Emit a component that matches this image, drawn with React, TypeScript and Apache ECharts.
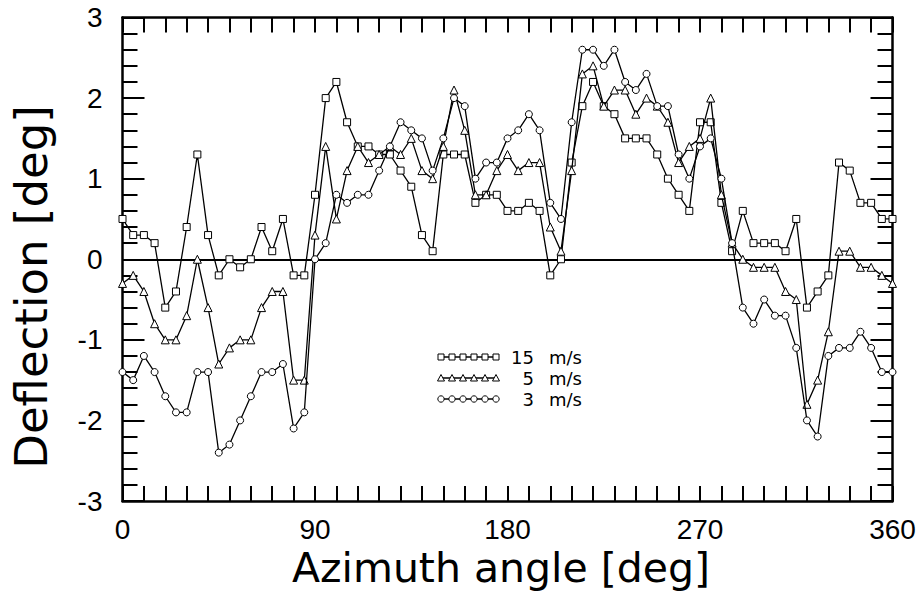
import React, { useEffect, useRef } from "react";
import * as echarts from "echarts";

const angles: number[] = [];
for (let a = 0; a <= 360; a += 5) angles.push(a);

const v15 = [0.5, 0.3, 0.3, 0.2, -0.6, -0.4, 0.4, 1.3, 0.3, -0.2, 0.0, -0.1, 0.0, 0.4, 0.1, 0.5, -0.2, -0.2, 0.8, 2.0, 2.2, 1.7, 1.4, 1.4, 1.3, 1.3, 1.1, 0.9, 0.3, 0.1, 1.3, 1.3, 1.3, 0.7, 0.8, 0.8, 0.6, 0.6, 0.7, 0.6, -0.2, 0.0, 1.2, 1.9, 2.2, 1.9, 1.8, 1.5, 1.5, 1.5, 1.3, 1.0, 0.8, 0.6, 1.7, 1.7, 0.7, 0.1, 0.6, 0.2, 0.2, 0.2, 0.1, 0.5, -0.6, -0.4, -0.2, 1.2, 1.1, 0.7, 0.7, 0.5, 0.5];
const v5 = [-0.3, -0.2, -0.4, -0.8, -1.0, -1.0, -0.7, 0.0, -0.6, -1.3, -1.1, -1.0, -1.0, -0.6, -0.4, -0.4, -1.5, -1.5, 0.3, 1.4, 0.5, 1.1, 1.4, 1.2, 1.3, 1.4, 1.3, 1.5, 1.1, 1.0, 1.4, 2.1, 1.6, 0.8, 0.8, 1.1, 1.3, 1.1, 1.2, 1.2, 0.4, 0.1, 1.1, 2.3, 2.4, 1.9, 2.1, 2.1, 1.8, 2.0, 1.9, 1.7, 1.2, 1.4, 1.5, 2.0, 0.8, 0.2, 0.0, -0.1, -0.1, -0.1, -0.4, -0.5, -1.8, -1.5, -0.9, 0.1, 0.1, -0.1, -0.1, -0.2, -0.3];
const v3 = [-1.4, -1.5, -1.2, -1.4, -1.7, -1.9, -1.9, -1.4, -1.4, -2.4, -2.3, -2.0, -1.7, -1.4, -1.4, -1.3, -2.1, -1.9, 0.0, 0.2, 0.8, 0.7, 0.8, 0.8, 1.1, 1.4, 1.7, 1.6, 1.5, 1.1, 1.5, 2.0, 1.9, 1.0, 1.2, 1.2, 1.5, 1.6, 1.8, 1.6, 0.7, 0.5, 1.7, 2.6, 2.6, 2.4, 2.6, 2.2, 2.1, 2.3, 1.9, 1.9, 1.3, 1.0, 1.4, 1.5, 1.0, 0.2, -0.6, -0.8, -0.5, -0.7, -0.7, -1.1, -2.0, -2.2, -1.2, -1.1, -1.1, -0.9, -1.1, -1.4, -1.4];

const seriesNames = ["15", "5", "3"];
const seriesSymbols = ["rect", "triangle", "circle"];
const xTicks = [0, 90, 180, 270, 360];
const yTicks = [-3, -2, -1, 0, 1, 2, 3];

const FONT_T = "Liberation Sans";
const FONT_TITLE = "DejaVu Sans";

export default function App() {
  const ref = useRef<HTMLDivElement>(null);
  useEffect(() => {
    if (!ref.current) return;
    const chart = echarts.init(ref.current, null, { renderer: "svg" });
    const values = [v15, v5, v3];
    const mk = (vals: number[]) => angles.map((a, i) => [a, vals[i]]);
    const axisLineStyle = { color: "#000", width: 2.5 };
    const tickStyle = { color: "#000", width: 2 };
    const xBase = (pos: "bottom" | "top", labels: boolean) => ({
      type: "value" as const,
      position: pos,
      min: 0,
      max: 360,
      interval: 90,
      axisLine: { show: true, onZero: false, lineStyle: axisLineStyle },
      axisTick: { show: true, inside: true, length: 15, lineStyle: tickStyle },
      minorTick: { show: true, splitNumber: 9, length: 15, lineStyle: tickStyle },
      splitLine: { show: false },
      axisLabel: {
        show: labels,
        margin: 14,
        color: "#000",
        fontSize: 28,
        fontFamily: FONT_T,
        customValues: xTicks,
      },
    });
    const yBase = (pos: "left" | "right", labels: boolean) => ({
      type: "value" as const,
      position: pos,
      min: -3,
      max: 3,
      interval: 1,
      axisLine: { show: true, onZero: false, lineStyle: axisLineStyle },
      axisTick: { show: true, inside: true, length: 22, lineStyle: tickStyle },
      minorTick: { show: true, splitNumber: 5, length: 15, lineStyle: tickStyle },
      splitLine: { show: false },
      axisLabel: {
        show: labels,
        margin: 20,
        color: "#000",
        fontSize: 28,
        fontFamily: FONT_T,
        customValues: yTicks,
      },
    });

    const legendRows = [357, 378, 399];
    const legendGraphics: any[] = [];
    seriesNames.forEach((name, r) => {
      const y = legendRows[r];
      legendGraphics.push({
        type: "line",
        shape: { x1: 441, y1: y, x2: 496, y2: y },
        style: { stroke: "#000", lineWidth: 1.3 },
        z: 10,
      });
      for (let k = 0; k < 6; k++) {
        const cx = 441 + k * 11;
        if (r === 0) {
          legendGraphics.push({ type: "rect", shape: { x: cx - 3, y: y - 3, width: 6, height: 6 }, style: { fill: "#fff", stroke: "#000", lineWidth: 1 }, z: 11 });
        } else if (r === 1) {
          legendGraphics.push({ type: "polygon", shape: { points: [[cx, y - 3.5], [cx + 3.5, y + 3], [cx - 3.5, y + 3]] }, style: { fill: "#fff", stroke: "#000", lineWidth: 1 }, z: 11 });
        } else {
          legendGraphics.push({ type: "circle", shape: { cx, cy: y, r: 3.2 }, style: { fill: "#fff", stroke: "#000", lineWidth: 1 }, z: 11 });
        }
      }
      legendGraphics.push({
        type: "text", x: 534, y, style: { text: name, fill: "#000", font: `18px "${FONT_TITLE}"`, textAlign: "right", textVerticalAlign: "middle", lineHeight: 18 }, z: 11,
      });
      legendGraphics.push({
        type: "text", x: 549, y, style: { text: "m/s", fill: "#000", font: `18px "${FONT_TITLE}"`, textAlign: "left", textVerticalAlign: "middle", lineHeight: 18 }, z: 11,
      });
    });

    chart.setOption({
      animation: false,
      backgroundColor: "#fff",
      grid: { left: 122.5, right: 26.5, top: 17.5, bottom: 92, containLabel: false },
      xAxis: [xBase("bottom", true), xBase("top", false)],
      yAxis: [yBase("left", true), yBase("right", false)],
      graphic: [
        {
          type: "text", x: 501, y: 568,
          style: { text: "Azimuth angle [deg]", fill: "#000", font: `41px "${FONT_TITLE}"`, textAlign: "center", textVerticalAlign: "middle" },
        },
        {
          type: "text", x: 31, y: 287, rotation: Math.PI / 2,
          style: { text: "Deflection [deg]", fill: "#000", font: `45px "${FONT_TITLE}"`, textAlign: "center", textVerticalAlign: "middle" },
        },
        ...legendGraphics,
      ],
      series: values.map((vals, i) => ({
        name: seriesNames[i] + " m/s",
        type: "line",
        data: mk(vals),
        symbol: seriesSymbols[i],
        symbolSize: i === 1 ? 8 : 7,
        showAllSymbol: true,
        lineStyle: { color: "#000", width: 1.3 },
        itemStyle: { color: "#fff", borderColor: "#000", borderWidth: 1 },
        z: 3 + i,
        markLine: i === 0 ? {
          silent: true,
          symbol: ["none", "none"],
          label: { show: false },
          lineStyle: { color: "#000", width: 2.2, type: "solid" },
          data: [{ yAxis: 0 }],
          z: 2,
        } : undefined,
      })),
    });
    return () => chart.dispose();
  }, []);
  return <div ref={ref} style={{ width: 919, height: 593, position: "absolute", left: 0, top: 0 }} />;
}
